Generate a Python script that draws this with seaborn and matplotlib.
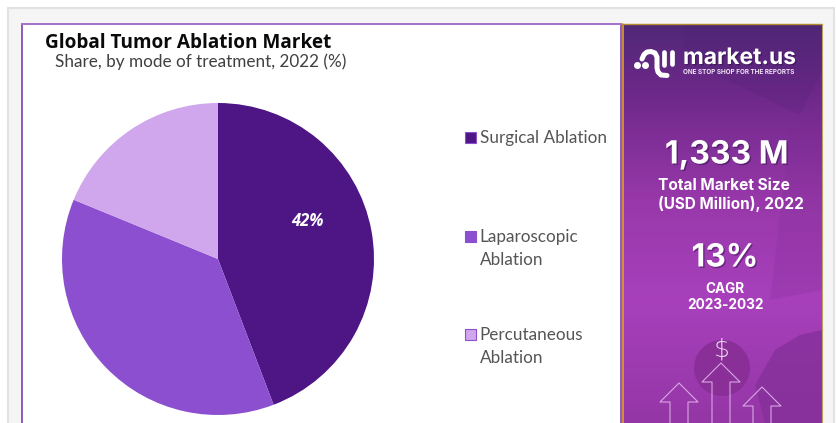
import matplotlib
matplotlib.use('Agg')
import matplotlib.pyplot as plt
import matplotlib.patheffects as pe
from matplotlib.patches import Rectangle, Polygon, Circle
import seaborn as sns
import numpy as np

sns.set_theme(style='white')
plt.rcParams['font.family'] = ['Open Sans', 'DejaVu Sans']

modes = ['Surgical Ablation', 'Laparoscopic\nAblation', 'Percutaneous\nAblation']
# wedge sizes, the printed label says 42%
shares = [44.2, 37.0, 18.8]
pie_labels = ['42%', '', '']
colors = ['#4e1585', '#8b4fd0', '#d0a6ec']
legend_y = [137.5, 236.5, 334.5]

fig = plt.figure(figsize=(8.36, 4.23), dpi=100, facecolor='white')
bg = fig.add_axes([0, 0, 1, 1])
bg.axis('off')

# card and panels
bg.add_patch(Rectangle((8, 8), 826, 420, fc='#f5f5f5', ec='#e2e2e2', lw=1.5))
bg.add_patch(Rectangle((22, 24), 599, 410, fc='white', ec='#7b3fb5', lw=1.2))
bg.plot([22, 621], [24, 24], color='#a873cf', lw=1.4)

# right side gradient
stops_y = [24, 90, 200, 300, 423]
stops = np.array([[0x50, 0x28, 0x78], [0x6c, 0x28, 0x88], [0x98, 0x38, 0xaa], [0xa8, 0x40, 0xbc], [0x94, 0x36, 0xa6]]) / 255
ys = np.arange(24, 423)
grad = np.stack([np.interp(ys, stops_y, stops[:, i]) for i in range(3)], axis=1)[:, None, :]
bg.imshow(grad, extent=(622, 822, 423, 24), aspect='auto', zorder=1)
bg.set_xlim(0, 836)
bg.set_ylim(423, 0)
bg.add_patch(Polygon([[684, 24], [822, 24], [822, 70], [800, 115], [684, 60]], fc='#4a2070', alpha=0.18, lw=0, zorder=1.1))
bg.add_patch(Polygon([[790, 130], [822, 115], [822, 290], [770, 300]], fc='#7a2a90', alpha=0.2, lw=0, zorder=1.1))
bg.add_patch(Polygon([[765, 423], [755, 385], [775, 350], [800, 335], [822, 330], [822, 423]], fc='#85309a', alpha=0.8, lw=0, zorder=1.2))
bg.add_patch(Circle((722, 368), 28, fc='#8a2e98', lw=0, zorder=1.2))
bg.plot([622.5, 622.5], [24, 423], color='#e0a020', lw=1.2, zorder=3)
bg.plot([622, 822], [24, 24], color='#b08a30', lw=1, zorder=3)
bg.plot([821.5, 821.5], [24, 423], color='#b9a060', lw=0.8, zorder=3)

# arrows at the bottom of the panel
for cx, top in [(679, 383), (721, 363), (762, 387)]:
    pts = [[cx - 9, 423], [cx - 9, top + 19], [cx - 19, top + 19], [cx, top], [cx + 19, top + 19], [cx + 9, top + 19], [cx + 9, 423]]
    bg.plot(*zip(*pts), color='#d9a6e4', lw=0.8, zorder=2)
bg.text(722, 350, '$', color='#ecd4f2', fontsize=18, ha='center', va='center', zorder=3, family=['DejaVu Sans'], fontweight='light', parse_math=False)

# logo
shadow = [pe.withSimplePatchShadow(offset=(1, -1), shadow_rgbFace='#30104a', alpha=0.5)]
logo_x = [642, 644, 647, 651, 655, 657, 657, 658, 661, 667]
logo_y = [59, 54.5, 52, 51.5, 53, 57, 68, 72, 75, 75.5]
bg.plot(logo_x, logo_y, color='white', lw=3.6, solid_capstyle='round', solid_joinstyle='round', zorder=4)
bg.plot([663.5, 663.5], [52, 65], color='white', lw=3.4, solid_capstyle='round', zorder=4)
bg.plot([671.5, 671.5], [52, 64], color='white', lw=3.4, solid_capstyle='round', zorder=4)
bg.plot([637, 645], [65, 65], 'o', color='white', ms=4, lw=0, zorder=4)
bg.text(683, 58, 'market.us', color='white', fontsize=16.4, fontweight='bold', family=['Inter', 'DejaVu Sans'], va='center', ha='left', zorder=4, path_effects=shadow)
bg.text(683, 71.5, 'ONE STOP SHOP FOR THE REPORTS', color='#f0e2f4', fontsize=4.6, fontweight='bold', family=['Inter', 'DejaVu Sans'], va='center', ha='left', zorder=4)

# panel numbers
big = dict(color='white', fontweight='bold', family=['Inter', 'DejaVu Sans'], ha='center', va='center', zorder=4)
bg.text(727, 155, '1,333 M', fontsize=23, path_effects=shadow, **big)
bg.text(724, 186, 'Total Market Size', fontsize=11.1, **big)
bg.text(731, 204, '(USD Million), 2022', fontsize=11, **big)
bg.text(725, 258, '13%', fontsize=23, path_effects=shadow, **big)
bg.text(725, 289, 'CAGR', fontsize=9.8, **big)
bg.text(725, 305, '2023-2032', fontsize=9.8, **big)

# titles
bg.text(45, 43.5, 'Global Tumor Ablation Market', color='#0a0a0a', fontsize=13.65, fontweight='bold', ha='left', va='center')
bg.text(55, 61.5, 'Share, by mode of treatment, 2022 (%)', color='#404040', fontsize=12.3, family=['Lato', 'DejaVu Sans'], ha='left', va='center')

# pie
ax = fig.add_axes([62 / 836, 1 - 415 / 423, 312 / 836, 312 / 423])
wedges, _ = ax.pie(shares, colors=colors, startangle=90, counterclock=False, radius=1,
                   wedgeprops=dict(lw=0))
ax.set_xlim(-1, 1)
ax.set_ylim(-1, 1)
ax.text(0.575, 0.245, pie_labels[0], color='white', fontsize=12, fontweight='bold', style='italic', ha='center', va='center')

# legend
for name, col, y in zip(modes, colors, legend_y):
    bg.add_patch(Rectangle((464.5, y - 5.5), 11, 11, fc=col, ec='#8b4fd0', lw=0.8, zorder=3))
    bg.text(479.5, y - 7.5, name, color='#555555', fontsize=12.3, family=['Lato', 'DejaVu Sans'], ha='left', va='top', linespacing=1.56, zorder=3)

fig.savefig('out.png', dpi=100)
